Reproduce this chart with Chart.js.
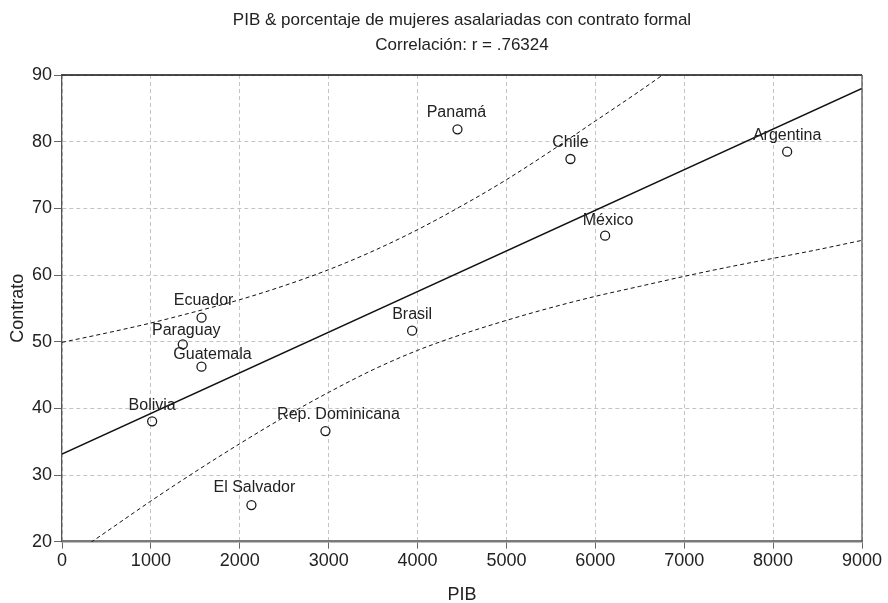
<!DOCTYPE html>
<html>
<head>
<meta charset="utf-8">
<script src="https://cdn.jsdelivr.net/npm/chart.js@4/dist/chart.umd.min.js"></script>
<style>
  html, body { margin: 0; padding: 0; background: #ffffff; }
  #wrap { width: 888px; height: 603px; }
</style>
</head>
<body>
<div id="wrap"><canvas id="c" width="888" height="603"></canvas></div>
<script>
// Países y sus valores: PIB (x) y % de asalariadas con contrato formal (y)
const paises   = ['Panamá', 'Chile', 'Argentina', 'México', 'Brasil', 'Ecuador', 'Paraguay', 'Guatemala', 'Bolivia', 'Rep. Dominicana', 'El Salvador'];
const pib      = [4449, 5720, 8158, 6110, 3939, 1570, 1359, 1569, 1014, 2964, 2131];
const contrato = [81.85, 77.4, 78.5, 65.9, 51.65, 53.6, 49.6, 46.25, 38.05, 36.6, 25.5];

// Recta de regresión
const ajusteX = [0, 9000];
const ajusteY = [33.15, 88.0];

// Banda de confianza superior e inferior
const bandaSupX = [0, 500, 1000, 1500, 2000, 2500, 3000, 3500, 4000, 4500, 5000, 5500, 6000, 6500, 7000];
const bandaSupY = [49.9, 51.3, 52.8, 54.5, 56.3, 58.4, 60.8, 63.6, 66.8, 70.4, 74.3, 78.6, 83.1, 87.6, 92.3];
const bandaInfX = [0, 500, 1000, 1500, 2000, 2500, 3000, 3500, 4000, 4500, 5000, 5500, 6000, 6500, 7000, 7500, 8000, 8500, 9000];
const bandaInfY = [16.9, 21.5, 26.1, 30.5, 34.7, 38.7, 42.4, 45.8, 48.7, 51.1, 53.2, 55.1, 56.8, 58.3, 59.8, 61.2, 62.5, 63.8, 65.2];

// Marcas de los ejes
const xTicks = [0, 1000, 2000, 3000, 4000, 5000, 6000, 7000, 8000, 9000];
const yTicks = [20, 30, 40, 50, 60, 70, 80, 90];

const titulo = ['PIB & porcentaje de mujeres asalariadas con contrato formal', 'Correlación: r = .76324'];

const FUENTE = "'Liberation Sans', Arial, Helvetica, sans-serif";
const TINTA = '#222222';

// Desplazamiento de cada etiqueta respecto a su punto (px)
const desplaz = {
  'Guatemala': [11, -12],
  'Rep. Dominicana': [13, -16],
  'Paraguay': [3.5, -13.5],
  'México': [3, -15],
  'Ecuador': [2, -17],
  'El Salvador': [3, -17],
  'Panamá': [-1, -16.5]
};

const pares = (xs, ys) => xs.map((x, i) => ({ x: x, y: ys[i] }));

// Nombre de cada país encima de su marcador
const etiquetas = {
  id: 'etiquetas',
  afterDatasetsDraw(chart) {
    const ctx = chart.ctx;
    const meta = chart.getDatasetMeta(0);
    ctx.save();
    ctx.font = '16px ' + FUENTE;
    ctx.fillStyle = TINTA;
    ctx.textAlign = 'center';
    ctx.textBaseline = 'middle';
    meta.data.forEach((pt, i) => {
      const d = desplaz[paises[i]] || [0, -16];
      ctx.fillText(paises[i], pt.x + d[0], pt.y + d[1]);
    });
    ctx.restore();
  }
};

// Marco superior y derecho del área de trazado
const marco = {
  id: 'marco',
  afterDatasetsDraw(chart) {
    const { ctx, chartArea: a } = chart;
    ctx.save();
    ctx.lineWidth = 1.3;
    ctx.strokeStyle = '#111111';
    ctx.beginPath();
    ctx.moveTo(a.left, a.top);
    ctx.lineTo(a.right, a.top);
    ctx.stroke();
    ctx.strokeStyle = '#555555';
    ctx.beginPath();
    ctx.moveTo(a.right, a.top);
    ctx.lineTo(a.right, a.bottom);
    ctx.stroke();
    ctx.restore();
  }
};

const simple = (v) => String(v);

new Chart(document.getElementById('c'), {
  type: 'scatter',
  data: {
    datasets: [
      {
        label: 'Contrato',
        data: pares(pib, contrato),
        pointStyle: 'circle',
        pointRadius: 4.5,
        pointBorderWidth: 1.3,
        pointBorderColor: '#1a1a1a',
        pointBackgroundColor: 'rgba(255,255,255,0)',
        showLine: false,
        order: 0
      },
      {
        label: 'Ajuste',
        type: 'line',
        data: pares(ajusteX, ajusteY),
        borderColor: '#111111',
        borderWidth: 1.5,
        pointRadius: 0,
        fill: false,
        order: 1
      },
      {
        label: 'IC superior',
        type: 'line',
        data: pares(bandaSupX, bandaSupY),
        borderColor: '#111111',
        borderWidth: 1,
        borderDash: [4, 3],
        pointRadius: 0,
        cubicInterpolationMode: 'monotone',
        fill: false,
        order: 2
      },
      {
        label: 'IC inferior',
        type: 'line',
        data: pares(bandaInfX, bandaInfY),
        borderColor: '#111111',
        borderWidth: 1,
        borderDash: [4, 3],
        pointRadius: 0,
        cubicInterpolationMode: 'monotone',
        fill: false,
        order: 3
      }
    ]
  },
  options: {
    responsive: false,
    devicePixelRatio: 1,
    animation: false,
    layout: { padding: { left: 0, right: 26, top: 0, bottom: 0 } },
    plugins: {
      legend: { display: false },
      tooltip: { enabled: false },
      title: {
        display: true,
        text: titulo,
        fullSize: false,
        color: TINTA,
        font: { family: FUENTE, size: 17, weight: 'normal', lineHeight: 25 / 17 },
        padding: { top: 7.5, bottom: 17.5 }
      }
    },
    scales: {
      x: {
        type: 'linear',
        min: 0,
        max: 9000,
        afterBuildTicks: (s) => { s.ticks = xTicks.map(v => ({ value: v })); },
        afterFit: (s) => { s.height = 61.3; },
        ticks: { color: TINTA, font: { family: FUENTE, size: 18 }, padding: 2, maxRotation: 0, callback: simple },
        grid: { color: '#c4c4c4', lineWidth: 1, tickLength: 7, tickColor: '#666666', tickWidth: 1 },
        border: { display: true, color: '#7a7a7a', width: 2.6, dash: [4, 3] },
        title: { display: true, text: 'PIB', color: TINTA, font: { family: FUENTE, size: 18, lineHeight: 1 }, padding: { top: 0, bottom: -1 } }
      },
      y: {
        type: 'linear',
        min: 20,
        max: 90,
        afterBuildTicks: (s) => { s.ticks = yTicks.map(v => ({ value: v })); },
        afterFit: (s) => { s.width = 62; },
        ticks: { color: TINTA, font: { family: FUENTE, size: 18 }, padding: 2, callback: simple },
        grid: { color: '#c4c4c4', lineWidth: 1, tickLength: 8, tickColor: '#666666', tickWidth: 1 },
        border: { display: true, color: '#555555', width: 1.3, dash: [4, 3] },
        title: { display: true, text: 'Contrato', color: TINTA, font: { family: FUENTE, size: 18, lineHeight: 1 }, padding: { top: 9, bottom: 0 } }
      }
    }
  },
  plugins: [etiquetas, marco]
});
</script>
</body>
</html>
